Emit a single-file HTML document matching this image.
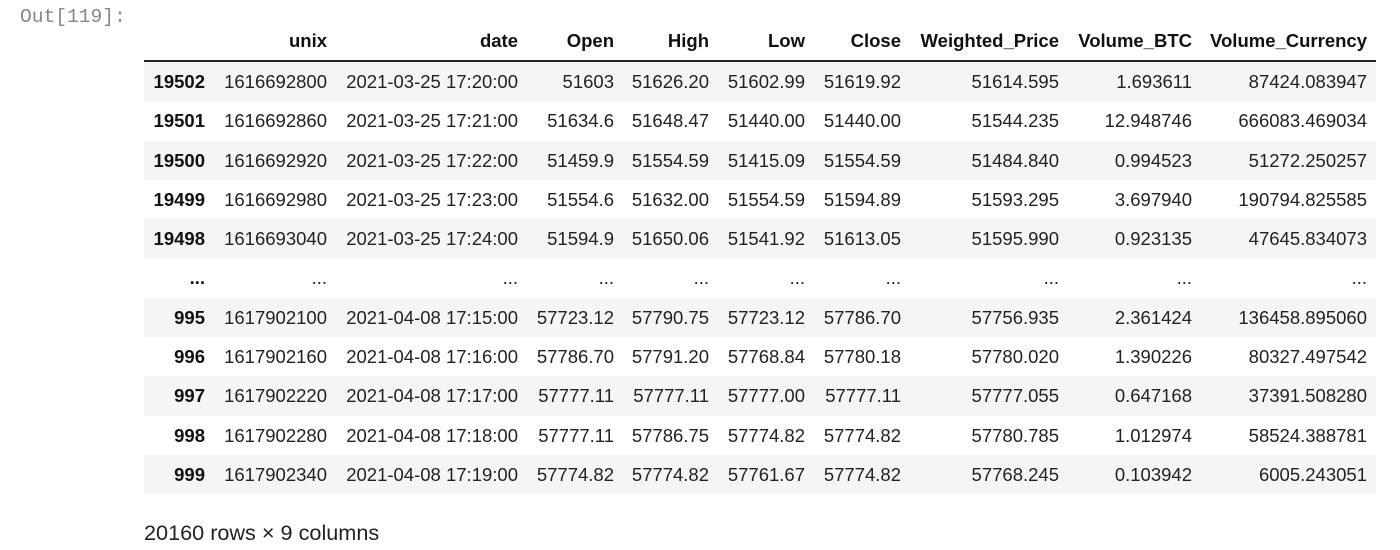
<!DOCTYPE html>
<html lang="en">
<head>
<meta charset="utf-8">
<title>DataFrame output</title>
<style>
html,body{margin:0;padding:0;background:#fff;}
body{width:1400px;height:550px;position:relative;overflow:hidden;font-family:"Liberation Sans",sans-serif;color:#222;}
#prompt{position:absolute;left:20px;top:5px;font:19.6px/24px "Liberation Mono",monospace;color:#888;}
#table{position:absolute;left:144px;top:20px;width:1232px;font-size:18.5px;}
.r{display:flex;height:39.3px;line-height:39.3px;white-space:nowrap;}
.r.h{height:40px;line-height:42px;font-weight:bold;border-bottom:2px solid #222;box-sizing:content-box;color:#111;}
.r.s{background:#f5f5f5;}
.r>div{text-align:right;box-sizing:border-box;padding-right:10px;flex:none;}
.r>div:nth-child(1){width:71px;font-weight:bold;color:#111;}
.r>div:nth-child(2){width:122px;}
.r>div:nth-child(3){width:191px;}
.r>div:nth-child(4){width:96px;}
.r>div:nth-child(5){width:95px;}
.r>div:nth-child(6){width:96px;}
.r>div:nth-child(7){width:96px;}
.r>div:nth-child(8){width:158px;}
.r>div:nth-child(9){width:133px;}
.r>div:nth-child(10){width:174px;padding-right:9px;}
#foot{position:absolute;left:144px;top:520px;font-size:21.65px;line-height:26px;color:#222;}
</style>
</head>
<body>
<div id="prompt">Out[119]:</div>
<div id="table">
<div class="r h"><div></div><div>unix</div><div>date</div><div>Open</div><div>High</div><div>Low</div><div>Close</div><div>Weighted_Price</div><div>Volume_BTC</div><div>Volume_Currency</div></div>
<div class="r s"><div>19502</div><div>1616692800</div><div>2021-03-25 17:20:00</div><div>51603</div><div>51626.20</div><div>51602.99</div><div>51619.92</div><div>51614.595</div><div>1.693611</div><div>87424.083947</div></div>
<div class="r"><div>19501</div><div>1616692860</div><div>2021-03-25 17:21:00</div><div>51634.6</div><div>51648.47</div><div>51440.00</div><div>51440.00</div><div>51544.235</div><div>12.948746</div><div>666083.469034</div></div>
<div class="r s"><div>19500</div><div>1616692920</div><div>2021-03-25 17:22:00</div><div>51459.9</div><div>51554.59</div><div>51415.09</div><div>51554.59</div><div>51484.840</div><div>0.994523</div><div>51272.250257</div></div>
<div class="r"><div>19499</div><div>1616692980</div><div>2021-03-25 17:23:00</div><div>51554.6</div><div>51632.00</div><div>51554.59</div><div>51594.89</div><div>51593.295</div><div>3.697940</div><div>190794.825585</div></div>
<div class="r s"><div>19498</div><div>1616693040</div><div>2021-03-25 17:24:00</div><div>51594.9</div><div>51650.06</div><div>51541.92</div><div>51613.05</div><div>51595.990</div><div>0.923135</div><div>47645.834073</div></div>
<div class="r"><div>...</div><div>...</div><div>...</div><div>...</div><div>...</div><div>...</div><div>...</div><div>...</div><div>...</div><div>...</div></div>
<div class="r s"><div>995</div><div>1617902100</div><div>2021-04-08 17:15:00</div><div>57723.12</div><div>57790.75</div><div>57723.12</div><div>57786.70</div><div>57756.935</div><div>2.361424</div><div>136458.895060</div></div>
<div class="r"><div>996</div><div>1617902160</div><div>2021-04-08 17:16:00</div><div>57786.70</div><div>57791.20</div><div>57768.84</div><div>57780.18</div><div>57780.020</div><div>1.390226</div><div>80327.497542</div></div>
<div class="r s"><div>997</div><div>1617902220</div><div>2021-04-08 17:17:00</div><div>57777.11</div><div>57777.11</div><div>57777.00</div><div>57777.11</div><div>57777.055</div><div>0.647168</div><div>37391.508280</div></div>
<div class="r"><div>998</div><div>1617902280</div><div>2021-04-08 17:18:00</div><div>57777.11</div><div>57786.75</div><div>57774.82</div><div>57774.82</div><div>57780.785</div><div>1.012974</div><div>58524.388781</div></div>
<div class="r s"><div>999</div><div>1617902340</div><div>2021-04-08 17:19:00</div><div>57774.82</div><div>57774.82</div><div>57761.67</div><div>57774.82</div><div>57768.245</div><div>0.103942</div><div>6005.243051</div></div>
</div>
<div id="foot">20160 rows × 9 columns</div>
</body>
</html>
